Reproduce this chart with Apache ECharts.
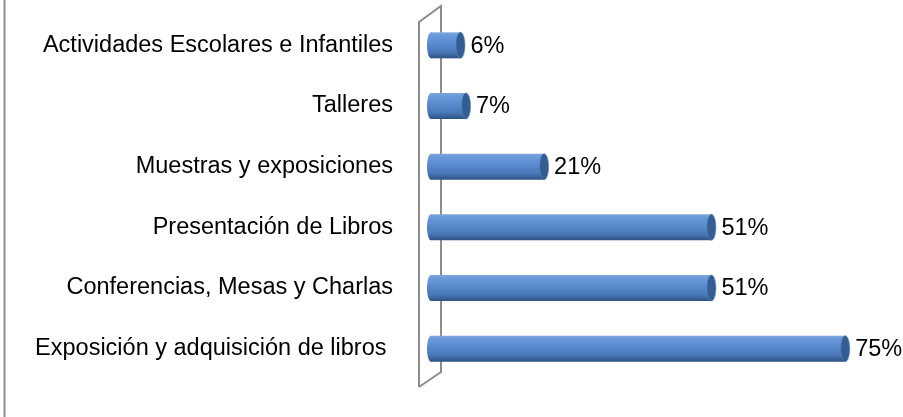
<!DOCTYPE html>
<html>
<head>
    <meta charset="utf-8">
    <script src="https://cdn.jsdelivr.net/npm/echarts@6/dist/echarts.min.js"></script>
    <title>Actividades</title>
    <style>
        html, body { margin: 0; padding: 0; background: #fff; }
        #main { width: 903px; height: 417px; }
    </style>
</head>
<body>
    <div id="main"></div>
    <script type="text/javascript">
    // data, bottom to top
    var categorias = [
        'Exposición y adquisición de libros ',
        'Conferencias, Mesas y Charlas',
        'Presentación de Libros',
        'Muestras y exposiciones',
        'Talleres',
        'Actividades Escolares e Infantiles'
    ];
    var porcentajes = [75, 51, 51, 21, 7, 6];

    var myChart = echarts.init(document.getElementById('main'));
    var fuente = 'Liberation Sans';
    var tam = 23.5;

    // cylinder-ish bar
    var renderItem = function(params, api){
        var v = api.value(0);
        var c = api.value(1);
        var p0 = api.coord([0, c]);
        var p1 = api.coord([v, c]);
        var h = 26;
        var y = p0[1] - h / 2;
        var grad = new echarts.graphic.LinearGradient(0, 0, 0, 1, [
            {offset: 0, color: '#7ea6da'},
            {offset: 0.12, color: '#6a9ad9'},
            {offset: 0.4, color: '#5a8cd0'},
            {offset: 0.75, color: '#4a79b8'},
            {offset: 1, color: '#2d5283'}
        ]);
        return {
            type: 'group',
            children: [{
                type: 'ellipse',
                shape: {cx: p0[0] + 4, cy: p0[1], rx: 4, ry: h / 2},
                style: {fill: grad}
            }, {
                type: 'rect',
                shape: {x: p0[0] + 4, y: y, width: p1[0] - p0[0] - 4, height: h},
                style: {fill: grad}
            }, {
                type: 'ellipse',
                shape: {cx: p1[0], cy: p0[1], rx: 4.5, ry: h / 2},
                style: {fill: '#345e93', stroke: '#5a86c0', lineWidth: 0.6}
            }, {
                type: 'text',
                style: {
                    x: p1[0] + 10, y: p0[1] + 1,
                    text: v + '%',
                    fill: '#000',
                    font: tam + 'px ' + fuente,
                    verticalAlign: 'middle'
                }
            }]
        };
    };

    var option = {
        animation: false,
        grid: {left: 427, right: 2, top: 15, bottom: 38},
        xAxis: {
            type: 'value',
            min: 0,
            max: 85,
            show: false,
            splitLine: {show: false}
        },
        yAxis: {
            type: 'category',
            data: categorias,
            axisLine: {show: false},
            axisTick: {show: false},
            axisLabel: {
                margin: 34,
                color: '#000',
                fontSize: tam,
                fontFamily: fuente
            }
        },
        graphic: [{
            // outer frame left edge
            type: 'line',
            shape: {x1: 4.5, y1: 0, x2: 4.5, y2: 417},
            style: {stroke: '#8c8c8c', lineWidth: 2},
            z: 0
        }, {
            // back wall
            type: 'polyline',
            shape: {points: [[419, 387], [419, 22], [441, 6], [441, 372], [419, 387]]},
            style: {stroke: '#8c8c8c', lineWidth: 2, fill: 'none'},
            z: 0
        }],
        series: [{
            type: 'custom',
            renderItem: renderItem,
            encode: {x: 0, y: 1},
            data: porcentajes.map(function(v, i){ return [v, i]; }),
            z: 5
        }]
    };
    myChart.setOption(option);
    </script>
</body>
</html>
